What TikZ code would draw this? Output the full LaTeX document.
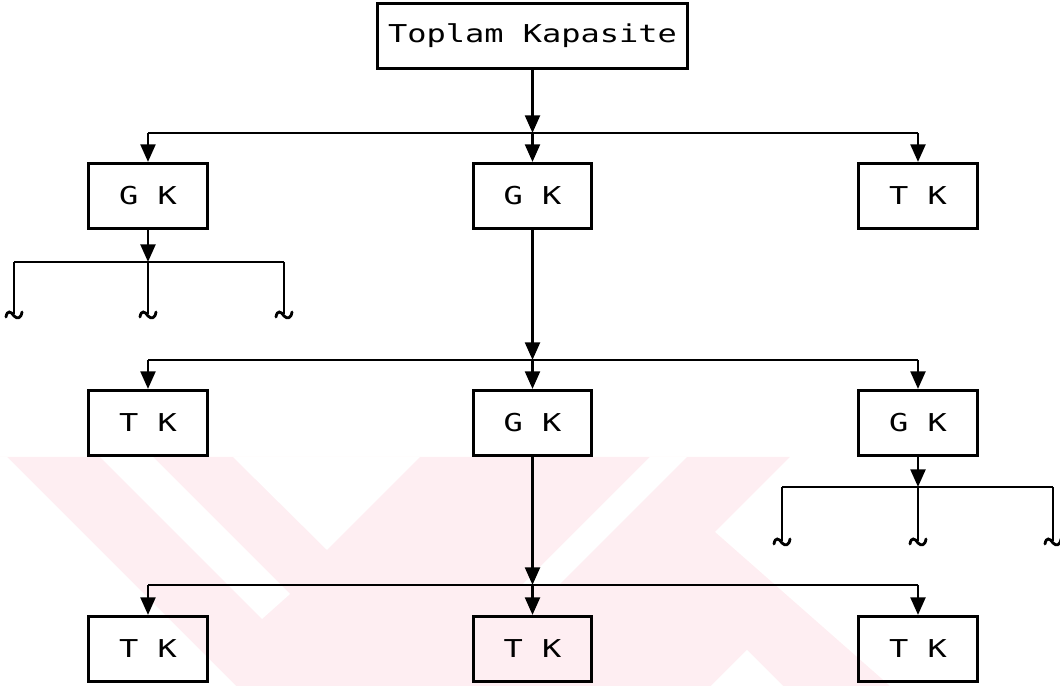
\documentclass[tikz,border=0pt]{standalone}
\usepackage{fontspec}
\newfontfamily\dmfont{DejaVu Sans Mono}
\usetikzlibrary{arrows.meta}
\definecolor{wm}{RGB}{254,238,242}
\newcommand\boxtxt[1]{\scalebox{1.3}[1]{\dmfont\fontsize{7}{8}\selectfont #1}}
\begin{document}
\begin{tikzpicture}[x=0.01cm,y=-0.01cm,
  box/.style={draw,line width=0.85pt,minimum width=1.18cm,minimum height=0.65cm,inner sep=0pt},
  ln/.style={line width=0.8pt},
  arr/.style={ln,-{Triangle[width=4.2pt,length=5pt]}},
  sq/.pic={\draw[ln,line cap=round] (-8,3) .. controls (-7,-4) and (-3,-3) .. (0,2) .. controls (3,5) and (7,5) .. (8,-2);}]
\useasboundingbox (0,0) rectangle (1060,686);
% watermark
\fill[wm] (0,457) -- (790,457) -- (715,532) -- (890,686) -- (0,686) -- cycle;
\fill[white] (0,457) -- (7,457) -- (236,686) -- (0,686) -- cycle;
\fill[white] (100,457) -- (153,457) -- (290,594) -- (262,619) -- cycle;
\fill[white] (233,457) -- (420,457) -- (327,550) -- cycle;
\fill[white] (650,457) -- (687,457) -- (560,584) -- (523,584) -- cycle;
\fill[white] (747,650) -- (783,686) -- (711,686) -- cycle;
% nodes
\node[box,minimum width=3.09cm] (top) at (532.5,36) {\boxtxt{Toplam Kapasite}};
\node[box] (gk1) at (148,196) {\boxtxt{G K}};
\node[box] (gk2) at (532.5,196) {\boxtxt{G K}};
\node[box] (tk1) at (918,196) {\boxtxt{T K}};
\node[box] (tk2) at (148,423) {\boxtxt{T K}};
\node[box] (gk3) at (532.5,423) {\boxtxt{G K}};
\node[box] (gk4) at (918,423) {\boxtxt{G K}};
\node[box] (tk3) at (148,649) {\boxtxt{T K}};
\node[box] (tk4) at (532.5,649) {\boxtxt{T K}};
\node[box] (tk5) at (918,649) {\boxtxt{T K}};
% bus 1
\coordinate (b1c) at (532.5,133);
\coordinate (b1l) at (148,133);
\coordinate (b1r) at (918,133);
\draw[arr] (top) -- (b1c);
\draw[ln] (b1l) -- (b1r);
\draw[arr] (b1l) -- (gk1);
\draw[arr] (b1c) -- (gk2);
\draw[arr] (b1r) -- (tk1);
% left sub-bus
\coordinate (s1c) at (148,262);
\coordinate (s1l) at (14,262);
\coordinate (s1r) at (284,262);
\coordinate (e1) at (14,314);
\coordinate (e2) at (148,314);
\coordinate (e3) at (284,314);
\draw[arr] (gk1) -- (s1c);
\draw[ln] (s1l) -- (s1r);
\draw[ln] (s1l) -- (e1);
\draw[ln] (s1c) -- (e2);
\draw[ln] (s1r) -- (e3);
\pic at (e1) {sq};
\pic at (e2) {sq};
\pic at (e3) {sq};
% bus 2
\coordinate (b2c) at (532.5,360);
\coordinate (b2l) at (148,360);
\coordinate (b2r) at (918,360);
\draw[arr] (gk2) -- (b2c);
\draw[ln] (b2l) -- (b2r);
\draw[arr] (b2l) -- (tk2);
\draw[arr] (b2c) -- (gk3);
\draw[arr] (b2r) -- (gk4);
% right sub-bus
\coordinate (s2c) at (918,487);
\coordinate (s2l) at (782,487);
\coordinate (s2r) at (1053,487);
\coordinate (f1) at (782,541);
\coordinate (f2) at (918,541);
\coordinate (f3) at (1053,541);
\draw[arr] (gk4) -- (s2c);
\draw[ln] (s2l) -- (s2r);
\draw[ln] (s2l) -- (f1);
\draw[ln] (s2c) -- (f2);
\draw[ln] (s2r) -- (f3);
\pic at (f1) {sq};
\pic at (f2) {sq};
\pic at (f3) {sq};
% bus 3
\coordinate (b3c) at (532.5,585);
\coordinate (b3l) at (148,585);
\coordinate (b3r) at (918,585);
\draw[arr] (gk3) -- (b3c);
\draw[ln] (b3l) -- (b3r);
\draw[arr] (b3l) -- (tk3);
\draw[arr] (b3c) -- (tk4);
\draw[arr] (b3r) -- (tk5);
\end{tikzpicture}
\end{document}
